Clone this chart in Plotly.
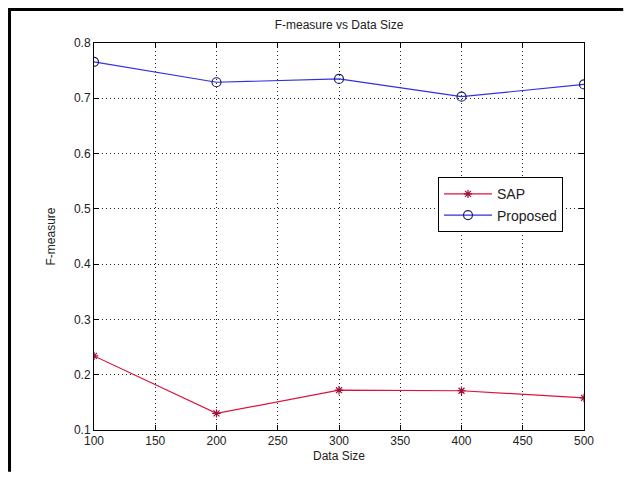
import plotly.graph_objects as go

data_size = [100, 200, 300, 400, 500]
sap = [0.234, 0.130, 0.172, 0.171, 0.158]
proposed = [0.766, 0.729, 0.735, 0.703, 0.725]
x_ticks = [100, 150, 200, 250, 300, 350, 400, 450, 500]
y_ticks = [0.1, 0.2, 0.3, 0.4, 0.5, 0.6, 0.7, 0.8]

font = "Liberation Sans, Arial, sans-serif"

fig = go.Figure()
fig.add_trace(go.Scatter(
    x=data_size, y=sap, mode="lines+markers", name="SAP",
    line=dict(color="#dc143c", width=1.2),
    marker=dict(symbol="asterisk-open", size=7, color="#a0103a",
                line=dict(color="#a0103a", width=1.2)),
))
fig.add_trace(go.Scatter(
    x=data_size, y=proposed, mode="lines+markers", name="Proposed",
    line=dict(color="#3030e0", width=1.2),
    marker=dict(symbol="circle-open", size=9, color="#202060",
                line=dict(color="#202060", width=1.2)),
))

axis_common = dict(
    showgrid=True, gridcolor="#222", griddash="1px,3px", gridwidth=1,
    showline=True, linecolor="black", linewidth=1, mirror="ticks",
    ticks="inside", ticklen=5, tickcolor="black",
    tickfont=dict(family=font, size=12, color="#222"),
    zeroline=False, automargin=False,
)

fig.update_layout(
    width=616, height=464,
    margin=dict(l=86, r=40, t=35, b=42),
    paper_bgcolor="white", plot_bgcolor="white",
    font=dict(family=font, size=12, color="#222"),
    title=dict(text="F-measure vs Data Size", x=331 / 616, xanchor="center",
               y=1 - 17 / 464, yanchor="middle", font=dict(family=font, size=12, color="#222")),
    xaxis=dict(range=[100, 500], tickvals=x_ticks, ticktext=[str(v) for v in x_ticks],
               title=dict(text="Data Size", standoff=4, font=dict(family=font, size=12)),
               **axis_common),
    yaxis=dict(range=[0.1, 0.8], tickvals=y_ticks, ticktext=[f"{v:.1f}" for v in y_ticks],
               title=dict(text="F-measure", standoff=15, font=dict(family=font, size=12)),
               **axis_common),
    legend=dict(x=0.702, y=0.653, xanchor="left", yanchor="top",
                bgcolor="white", bordercolor="black", borderwidth=1,
                font=dict(family=font, size=14, color="#222"),
                tracegroupgap=0, itemwidth=48),
    showlegend=True,
)

# outer frame (left and top edges visible in the reference), one open path
xl, xr, yb, yt = -0.1724, 1.08, -0.108, 1.0866
fig.add_shape(type="path", xref="paper", yref="paper",
              path=f"M {xl},{yb} L {xl},{yt} L {xr},{yt}",
              line=dict(color="black", width=3))

fig.write_html("out.html")
